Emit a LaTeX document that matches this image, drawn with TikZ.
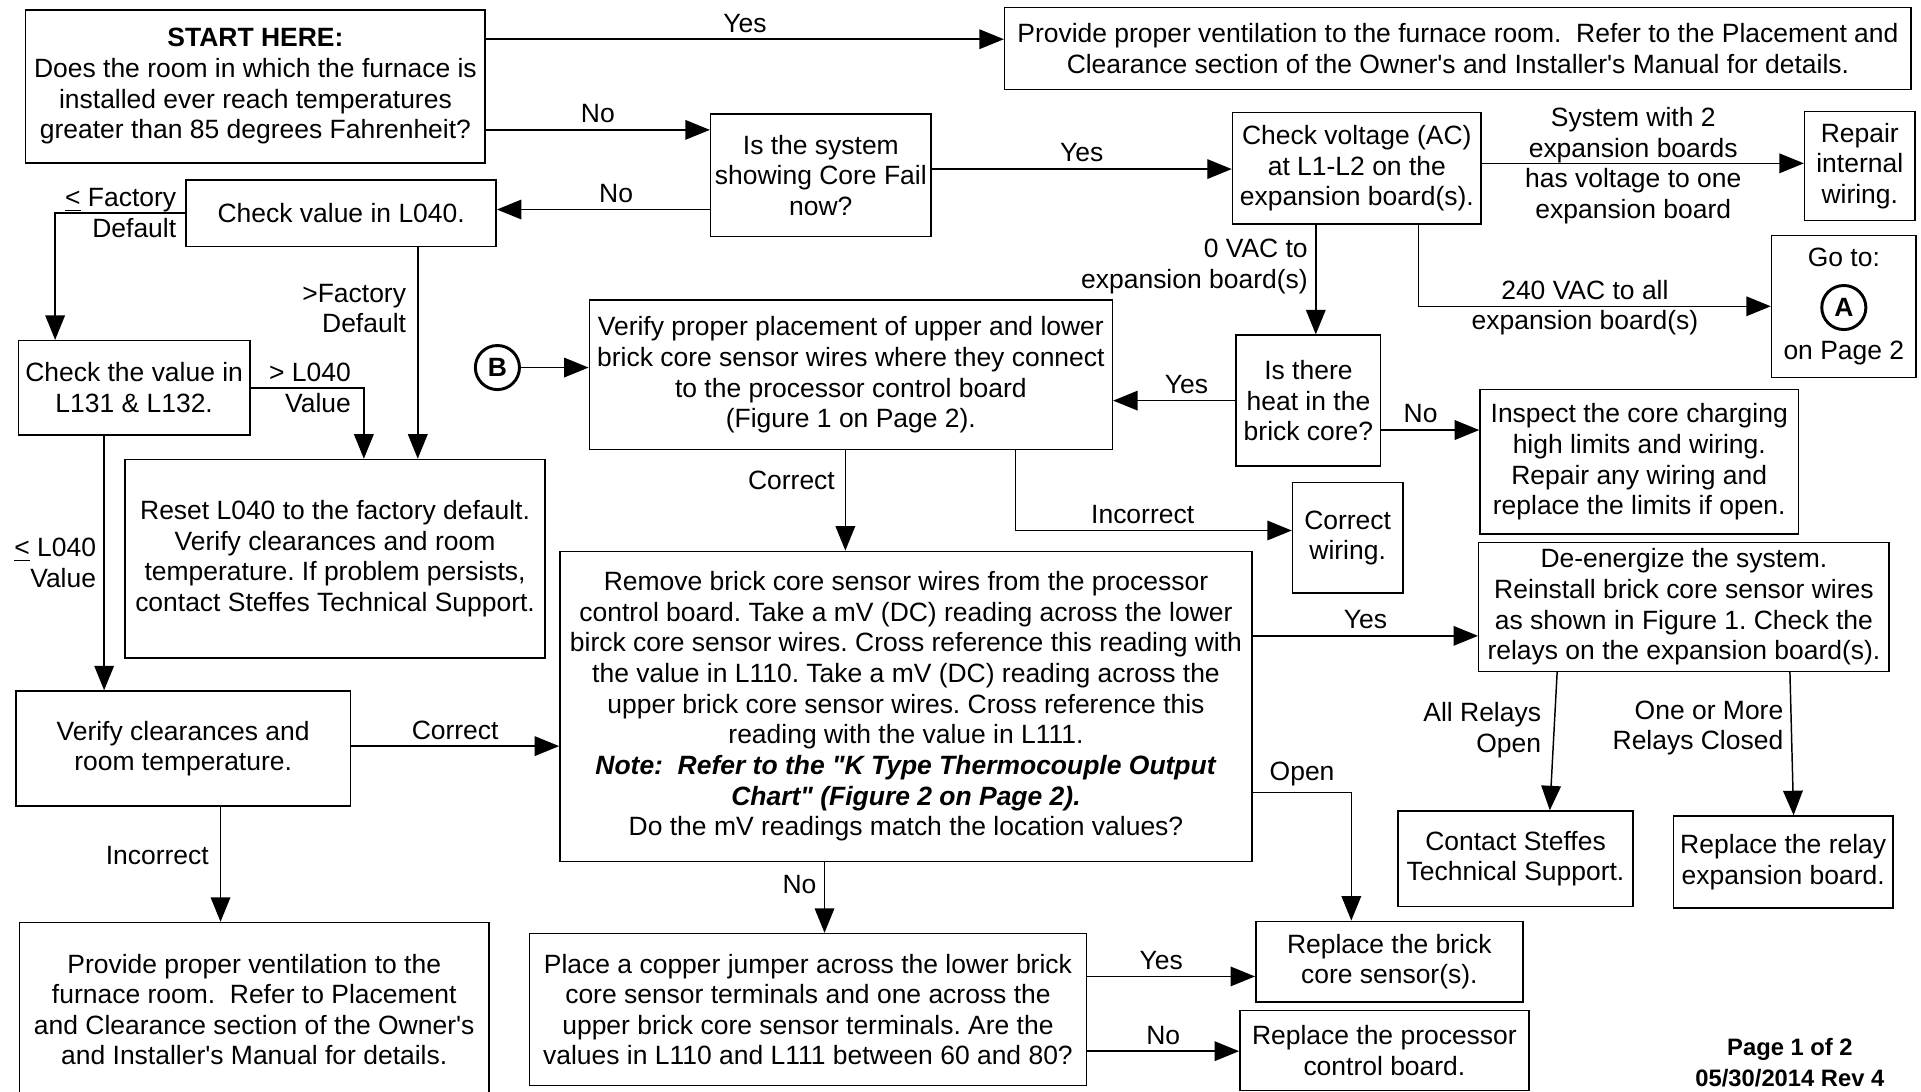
\documentclass[tikz,border=0pt]{standalone}
\usepackage{fontspec}
\setmainfont{Liberation Sans}
\usetikzlibrary{positioning,arrows.meta}
\tikzset{
	box/.style={draw,line width=0.6pt,align=center,inner sep=0pt,font=\fontsize{10.8}{12.5}\selectfont},
	lbl/.style={inner sep=0pt,align=center,font=\fontsize{10.8}{12.5}\selectfont},
	tag/.style={circle,draw,line width=1.2pt,minimum size=18pt,inner sep=0pt,font=\bfseries\fontsize{10.8}{12.5}\selectfont},
	arr/.style={line width=0.6pt,-{Triangle[length=10pt,width=8pt]}}
}

\begin{document}
\frenchspacing
\begin{tikzpicture}[x=0.5pt,y=-0.5pt]
			\useasboundingbox (0,0) rectangle (1568,891);
			% boxes, top row
			\node[box,minimum width=187.5pt,minimum height=62.5pt] (start) at (208.5,70.5) {\textbf{START HERE:}\\Does the room in which the furnace is\\installed ever reach temperatures\\greater than 85 degrees Fahrenheit?};
			\node[box,minimum width=370pt,minimum height=33.5pt] (vent1) at (1190,39.5) {Provide proper ventilation to the furnace room.\ \ Refer to the Placement and\\Clearance section of the Owner\textquotesingle{}s and Installer\textquotesingle{}s Manual for details.};
			\node[box,minimum width=90pt,minimum height=50pt] (fail) at (670,143) {Is the system\\showing Core Fail\\now?};
			\node[box,minimum width=101.5pt,minimum height=45.5pt] (volt) at (1107.5,137.5) {Check voltage (AC)\\at L1-L2 on the\\expansion board(s).};
			\node[box,minimum width=45pt,minimum height=44.5pt] (repair) at (1518,135.5) {Repair\\internal\\wiring.};
			\node[box,minimum width=59pt,minimum height=58pt] (goto) at (1505,250) {Go to:\\[25.5pt]on Page 2};
			\node[tag] (ptA) at (1505,251) {A};
			% left column
			\node[box,minimum width=126.5pt,minimum height=27pt] (l040) at (278.5,174) {Check value in L040.};
			\node[box,minimum width=94.5pt,minimum height=38.5pt] (l131) at (109.5,316.5) {Check the value in\\L131 \& L132.};
			\node[box,minimum width=171.5pt,minimum height=81pt] (reset) at (273.5,456) {Reset L040 to the factory default.\\Verify clearances and room\\temperature. If problem persists,\\contact Steffes Technical Support.};
			\node[box,minimum width=136.5pt,minimum height=47pt] (verify) at (149.5,611) {Verify clearances and\\room temperature.};
			\node[box,minimum width=191.5pt,minimum height=71pt] (vent2) at (207.5,824) {Provide proper ventilation to the\\furnace room.\ \ Refer to Placement\\and Clearance section of the Owner\textquotesingle{}s\\and Installer\textquotesingle{}s Manual for details.};
			% middle
			\node[box,minimum width=213.5pt,minimum height=61pt] (place) at (694.5,306) {Verify proper placement of upper and lower\\brick core sensor wires where they connect\\to the processor control board\\(Figure 1 on Page 2).};
			\node[tag] (ptB) at (406,300) {B};
			\node[box,minimum width=59pt,minimum height=53.5pt] (heat) at (1068,327) {Is there\\heat in the\\brick core?};
			\node[box,minimum width=130pt,minimum height=59pt] (inspect) at (1338,377) {Inspect the core charging\\high limits and wiring.\\Repair any wiring and\\replace the limits if open.};
			\node[box,minimum width=45pt,minimum height=45pt] (rewire) at (1100,439) {Correct\\wiring.};
			\node[box,minimum width=282.5pt,minimum height=126.5pt] (remove) at (739.5,576.5) {Remove brick core sensor wires from the processor\\control board. Take a mV (DC) reading across the lower\\birck core sensor wires. Cross reference this reading with\\the value in L110. Take a mV (DC) reading across the\\upper brick core sensor wires. Cross reference this\\reading with the value in L111.\\\textbf{\textit{Note:\ \ Refer to the \textquotedbl K Type Thermocouple Output}}\\\textbf{\textit{Chart\textquotedbl\ (Figure 2 on Page 2).}}\\Do the mV readings match the location values?};
			\node[box,minimum width=167.5pt,minimum height=52.5pt] (deener) at (1374.5,495.5) {De-energize the system.\\Reinstall brick core sensor wires\\as shown in Figure 1. Check the\\relays on the expansion board(s).};
			% bottom row
			\node[box,minimum width=96pt,minimum height=39pt] (steffes) at (1237,701) {Contact Steffes\\Technical Support.};
			\node[box,minimum width=89.5pt,minimum height=37.5pt] (relay) at (1455.5,703.5) {Replace the relay\\expansion board.};
			\node[box,minimum width=227.5pt,minimum height=62pt] (jumper) at (659.5,824) {Place a copper jumper across the lower brick\\core sensor terminals and one across the\\upper brick core sensor terminals. Are the\\values in L110 and L111 between 60 and 80?};
			\node[box,minimum width=109pt,minimum height=33pt] (sensor) at (1134,785) {Replace the brick\\core sensor(s).};
			\node[box,minimum width=118pt,minimum height=32.5pt] (proc) at (1130,857.5) {Replace the processor\\control board.};
			\node[lbl,font=\bfseries\fontsize{9.7}{12.5}\selectfont] (page) at (1461,867.5) {Page 1 of 2\\05/30/2014 Rev 4};
			% connectors
			\draw[arr] ([yshift=19.25pt]start.east) -- node[lbl,above=2.5pt]{Yes} ([yshift=19.25pt]start.east -| vent1.west);
			\draw[arr] ([yshift=-17.75pt]start.east) -- node[lbl,above=2.5pt]{No} ([yshift=-17.75pt]start.east -| fail.west);
			\draw[arr] ([yshift=2.5pt]fail.east) -- node[lbl,above=2.5pt]{Yes} ([yshift=2.5pt]fail.east -| volt.west);
			\draw[arr] ([yshift=-14pt]fail.west) -- node[lbl,pos=0.44,above=2.5pt]{No} ([yshift=-14pt]fail.west -| l040.east);
			\draw[arr] (l040.west) node[lbl,left=3.5pt,align=right]{\underline{<} Factory\\Default} -| ([xshift=-32.25pt]l131.north);
			\draw[arr] ([xshift=31.25pt]l040.south) -- node[lbl,pos=0.29,left=4.5pt,align=right]{>Factory\\Default} ([xshift=31.25pt]l040.south |- reset.north);
			\draw[arr] (l131.east) -| node[lbl,pos=0.5,left=5pt,align=right]{> L040\\Value} ([xshift=11.75pt]reset.north);
			\draw[arr] ([xshift=-12.25pt]l131.south) -- node[lbl,midway,left=3pt,align=right]{\underline{<} L040\\Value} ([xshift=-12.25pt]l131.south |- verify.north);
			\draw[arr] ([yshift=1pt]verify.east) -- node[lbl,above=2.5pt]{Correct} ([yshift=1pt]verify.east -| remove.west);
			\draw[arr] ([xshift=15.25pt]verify.south) -- node[lbl,pos=0.42,left=4.5pt]{Incorrect} ([xshift=15.25pt]verify.south |- vent2.north);
			\draw[arr] (ptB) -- (ptB -| place.west);
			\draw[arr] ([xshift=-16.75pt]volt.south) -- node[lbl,pos=0.38,left=3pt,align=right]{0 VAC to\\expansion board(s)} ([xshift=-16.75pt]volt.south |- heat.north);
			\draw[arr] ([xshift=25.25pt]volt.south) |- node[lbl,pos=0.736,yshift=-0.5pt]{240 VAC to all\\expansion board(s)} (goto.west);
			\draw[arr] ([yshift=2.1pt]volt.east) -- node[lbl,pos=0.47,yshift=-1pt]{System with 2\\expansion boards\\has voltage to one\\expansion board} ([yshift=2.1pt]volt.east -| repair.west);
			\draw[arr] (heat.west) -- node[lbl,pos=0.4,above=2.5pt]{Yes} (heat.west -| place.east);
			\draw[arr] ([yshift=-12pt]heat.east) -- node[lbl,pos=0.4,above=2.5pt]{No} ([yshift=-12pt]heat.east -| inspect.west);
			\draw[arr] ([xshift=-2.25pt]place.south) -- node[lbl,pos=0.3,left=4pt]{Correct} ([xshift=-2.25pt]place.south |- remove.north);
			\draw[arr] ([xshift=67.25pt]place.south) |- node[lbl,pos=0.73,above=2.5pt]{Incorrect} ([yshift=3pt]rewire.west);
			\draw[arr] ([yshift=28.75pt]remove.east) -- node[lbl,above=2.5pt]{Yes} ([yshift=28.75pt]remove.east -| deener.west);
			\draw[arr] ([yshift=-35.25pt]remove.east) -| node[lbl,pos=0.25,above=2.5pt]{Open} ([xshift=-15.5pt]sensor.north);
			\draw[arr] ([xshift=-33.25pt]remove.south) -- node[lbl,pos=0.32,left=3pt]{No} ([xshift=-33.25pt]remove.south |- jumper.north);
			\draw[arr] ([yshift=13.5pt]jumper.east) -- node[lbl,pos=0.44,above=2.5pt]{Yes} ([yshift=13.5pt]jumper.east -| sensor.west);
			\draw[arr] ([yshift=-17pt]jumper.east) -- node[lbl,above=2.5pt]{No} ([yshift=-17pt]jumper.east -| proc.west);
			\draw[arr] ([xshift=-51.75pt]deener.south) -- node[lbl,pos=0.42,left=5pt,align=right]{All Relays\\Open} ([xshift=14pt]steffes.north);
			\draw[arr] ([xshift=43.25pt]deener.south) -- node[lbl,pos=0.39,left=3pt,align=right]{One or More\\Relays Closed} ([xshift=4.25pt]relay.north);
		\end{tikzpicture}
\end{document}
